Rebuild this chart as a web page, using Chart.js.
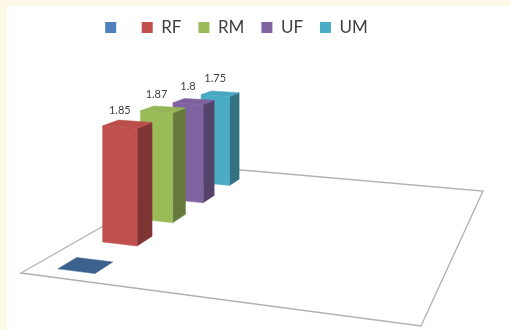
<!DOCTYPE html>
<html>
<head>
<meta charset="utf-8">
<script src="https://cdn.jsdelivr.net/npm/chart.js@4.4.0/dist/chart.umd.min.js"></script>
<style>
  html, body { margin: 0; padding: 0; background: #fef9e6; }
  #wrap { position: absolute; left: 7px; top: 6px; width: 504px; height: 324px; background: #fff; }
</style>
</head>
<body>
<div id="wrap"><canvas id="grafico"></canvas></div>
<script>
const series = ['', 'RF', 'RM', 'UF', 'UM'];
const values = [0, 1.85, 1.87, 1.8, 1.75];
const colors = ['#4f81bd', '#c0504d', '#9bbb59', '#8064a2', '#4bacc6'];

// 3D view: floor corners in canvas px (front-left, front-right, back-right, back-left)
const floor = [[14, 267], [414, 320], [476, 185], [200, 161]];
const fullHeight = 173.5;      // px of the whole y range at the front-left corner
const barU = [0.07, 0.175];    // lateral extent of the bars on the floor
const depthStart = -0.01, depthSpan = 0.96;

function homography(q) {
  const [p0, p1, p2, p3] = q;
  const dx1 = p1[0] - p2[0], dx2 = p3[0] - p2[0], dx3 = p0[0] - p1[0] + p2[0] - p3[0];
  const dy1 = p1[1] - p2[1], dy2 = p3[1] - p2[1], dy3 = p0[1] - p1[1] + p2[1] - p3[1];
  const den = dx1 * dy2 - dx2 * dy1;
  const g = (dx3 * dy2 - dx2 * dy3) / den, h = (dx1 * dy3 - dx3 * dy1) / den;
  const a = p1[0] - p0[0] + g * p1[0], b = p3[0] - p0[0] + h * p3[0];
  const d = p1[1] - p0[1] + g * p1[1], e = p3[1] - p0[1] + h * p3[1];
  return (u, v) => {
    const w = g * u + h * v + 1;
    return { x: (a * u + b * v + p0[0]) / w, y: (d * u + e * v + p0[1]) / w, w };
  };
}
const H = homography(floor);
function pt(u, v, hf) {
  const p = H(u, v);
  return [p.x, p.y - hf * fullHeight / p.w];
}

function shade(hex, f) {
  const n = parseInt(hex.slice(1), 16);
  const r = Math.round(((n >> 16) & 255) * f), g = Math.round(((n >> 8) & 255) * f), b = Math.round((n & 255) * f);
  return `rgb(${r},${g},${b})`;
}

function poly(ctx, pts, color) {
  ctx.beginPath();
  pts.forEach((p, i) => i ? ctx.lineTo(p[0], p[1]) : ctx.moveTo(p[0], p[1]));
  ctx.closePath();
  ctx.fillStyle = color;
  ctx.strokeStyle = color;
  ctx.lineWidth = 0.5;
  ctx.fill();
  ctx.stroke();
}

const caja3d = {
  id: 'caja3d',
  beforeDatasetsDraw(chart) {
    const ctx = chart.ctx, area = chart.chartArea, ys = chart.scales.y;
    ctx.save();

    // suelo
    ctx.beginPath();
    floor.forEach((p, i) => i ? ctx.lineTo(p[0], p[1]) : ctx.moveTo(p[0], p[1]));
    ctx.closePath();
    ctx.fillStyle = '#fff';
    ctx.fill();
    ctx.strokeStyle = '#b0b0b0';
    ctx.lineWidth = 1.3;
    ctx.stroke();

    const bars = chart.data.datasets.map((ds, i) => {
      const el = chart.getDatasetMeta(i).data[0];
      const { x, y, base, width } = el.getProps(['x', 'y', 'base', 'width'], true);
      const fx = (x - area.left) / area.width, fw = width / area.width;
      return {
        color: ds.backgroundColor,
        value: ds.data[0],
        v0: depthStart + depthSpan * (fx - fw / 2),
        v1: depthStart + depthSpan * (fx + fw / 2),
        hf: (base - y) / (ys.bottom - ys.top)
      };
    });

    bars.slice().sort((a, b) => b.v0 - a.v0).forEach(b => {
      const [u0, u1] = barU;
      if (b.hf <= 0) {
        poly(ctx, [pt(u0, b.v0, 0), pt(u1, b.v0, 0), pt(u1, b.v1, 0), pt(u0, b.v1, 0)], shade(b.color, 0.75));
        return;
      }
      // lado derecho
      poly(ctx, [pt(u1, b.v0, 0), pt(u1, b.v1, 0), pt(u1, b.v1, b.hf), pt(u1, b.v0, b.hf)], shade(b.color, 0.66));
      // frente
      poly(ctx, [pt(u0, b.v0, 0), pt(u1, b.v0, 0), pt(u1, b.v0, b.hf), pt(u0, b.v0, b.hf)], b.color);
      // tapa
      poly(ctx, [pt(u0, b.v0, b.hf), pt(u1, b.v0, b.hf), pt(u1, b.v1, b.hf), pt(u0, b.v1, b.hf)], shade(b.color, 0.97));
    });

    // etiquetas
    ctx.font = '11px Lato';
    ctx.fillStyle = '#404040';
    ctx.textAlign = 'center';
    ctx.textBaseline = 'middle';
    bars.forEach(b => {
      if (!b.value) return;
      const p = pt((barU[0] + barU[1]) / 2, b.v0, b.hf);
      ctx.fillText(String(b.value), p[0], p[1] - 17);
    });

    ctx.restore();
    return false;
  }
};

new Chart(document.getElementById('grafico'), {
  type: 'bar',
  data: {
    labels: [''],
    datasets: series.map((name, i) => ({
      label: name,
      data: [values[i]],
      backgroundColor: colors[i],
      borderWidth: 0,
      categoryPercentage: 1,
      barPercentage: 0.4
    }))
  },
  options: {
    responsive: true,
    maintainAspectRatio: false,
    animation: false,
    layout: { padding: { top: -4, right: 45 } },
    scales: {
      x: { display: false },
      y: { display: false, min: 0, max: 2.5 }
    },
    plugins: {
      tooltip: { enabled: false },
      legend: {
        position: 'top',
        labels: {
          boxWidth: 11,
          boxHeight: 11,
          padding: 17,
          color: '#404040',
          font: { family: 'Lato', size: 17 }
        }
      }
    }
  },
  plugins: [caja3d]
});
</script>
</body>
</html>
